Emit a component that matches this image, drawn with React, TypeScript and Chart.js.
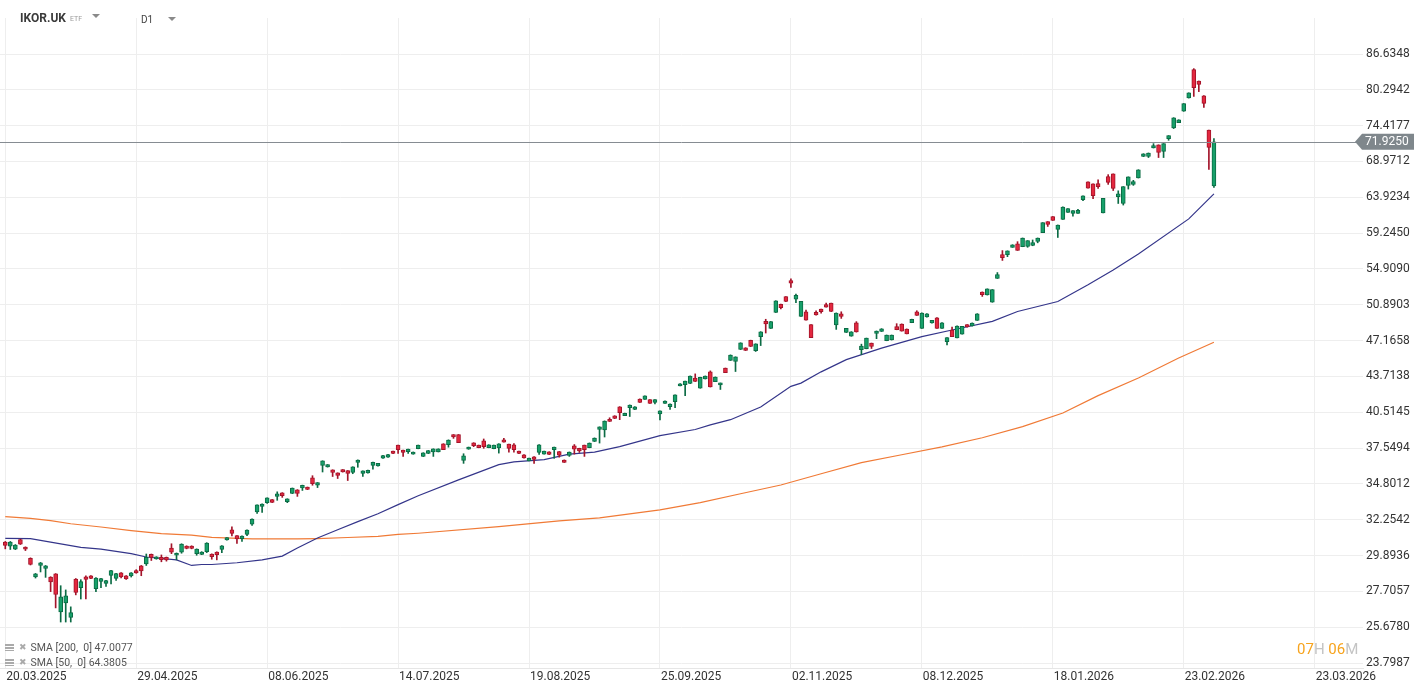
import React, { useEffect, useRef } from 'react';
import { Chart, registerables } from 'chart.js';

Chart.register(...registerables);

const symbol = 'IKOR.UK';
const symbolType = 'ETF';
const interval = 'D1';

const xTickIndex = [0, 26, 52, 78, 104, 130, 156, 182, 208, 234, 260];
const xTickLabels = ['20.03.2025', '29.04.2025', '08.06.2025', '14.07.2025', '19.08.2025', '25.09.2025', '02.11.2025', '08.12.2025', '18.01.2026', '23.02.2026', '23.03.2026'];

const yTicks = [23.7987, 25.678, 27.7057, 29.8936, 32.2542, 34.8012, 37.5494, 40.5145, 43.7138, 47.1658, 50.8903, 54.909, 59.245, 63.9234, 68.9712, 74.4177, 80.2942, 86.6348];

const opens = [
  30.76, 30.50, 30.30, 30.92, 30.43, 29.72, 28.56, 29.27, 29.09, 28.56,
  28.75, 26.52, 27.03, 26.22, 28.44, 27.93, 28.58, 28.63, 27.87, 28.30,
  28.18, 28.66, 28.48, 28.81, 28.63, 28.63, 28.95, 29.25, 29.36, 29.97,
  29.68, 29.78, 29.78, 30.37, 29.91, 30.10, 30.50, 30.50, 30.01, 29.97,
  30.14, 29.99, 30.12, 30.28, 30.90, 31.57, 31.18, 30.98, 31.27, 31.95,
  32.80, 33.18, 33.44, 33.66, 33.89, 34.15, 33.51, 34.10, 34.37, 34.51,
  34.56, 35.25, 34.70, 36.20, 36.07, 35.85, 35.62, 35.87, 35.79, 35.66,
  36.43, 35.59, 35.62, 36.20, 36.15, 36.75, 36.83, 37.30, 37.78, 37.38,
  37.27, 37.07, 37.50, 36.89, 37.12, 37.25, 37.25, 37.89, 37.83, 38.63,
  38.63, 36.58, 37.46, 37.97, 37.78, 38.14, 37.58, 37.50, 37.56, 38.22,
  37.86, 37.81, 37.30, 37.02, 36.54, 36.86, 37.20, 37.07, 37.25, 37.43,
  37.27, 36.61, 36.96, 37.72, 37.53, 37.78, 37.58, 38.08, 39.07, 39.02,
  39.92, 40.21, 40.99, 40.23, 40.92, 40.75, 41.67, 41.64, 41.61, 41.37,
  40.37, 41.28, 40.99, 41.43, 42.84, 42.95, 43.06, 43.56, 42.64, 43.48,
  44.14, 43.24, 42.93, 44.49, 45.23, 45.13, 46.29, 46.45, 47.20, 46.16,
  47.57, 49.14, 48.40, 50.07, 50.95, 51.77, 53.57, 51.51, 49.65, 50.14,
  48.79, 50.07, 50.42, 50.90, 51.06, 48.76, 49.93, 47.99, 47.61, 48.99,
  46.26, 46.36, 46.91, 47.88, 48.09, 47.16, 47.23, 48.58, 48.86, 48.34,
  49.00, 50.14, 48.40, 49.59, 48.96, 49.51, 48.40, 47.06, 48.24, 47.44,
  47.82, 48.79, 48.65, 49.24, 52.29, 51.96, 51.17, 53.82, 56.60, 56.60,
  57.49, 57.90, 57.57, 57.61, 57.73, 58.22, 59.31, 60.70, 61.36, 59.70,
  61.00, 61.92, 61.79, 61.79, 63.61, 66.04, 65.76, 65.80, 61.84, 66.79,
  67.17, 64.01, 63.09, 65.56, 65.70, 66.60, 69.70, 69.70, 70.98, 71.44,
  70.46, 72.39, 74.07, 74.91, 76.72, 78.91, 83.81, 81.81, 79.29, 73.72,
  65.47
];

const highs = [
  30.80, 30.80, 30.60, 30.95, 30.45, 29.75, 28.78, 29.46, 29.27, 28.58,
  28.77, 28.04, 27.79, 26.81, 28.47, 28.40, 28.64, 28.65, 28.52, 28.48,
  28.36, 28.97, 28.79, 28.83, 28.65, 28.83, 29.01, 29.27, 29.99, 29.99,
  29.82, 29.93, 29.80, 30.65, 30.06, 30.65, 30.52, 30.52, 30.32, 30.14,
  30.72, 30.00, 30.13, 30.53, 31.06, 31.77, 31.19, 31.17, 31.57, 32.31,
  33.29, 33.36, 33.79, 33.67, 34.22, 34.16, 33.72, 34.50, 34.38, 34.71,
  34.57, 35.41, 34.90, 36.55, 36.26, 35.86, 35.63, 35.88, 35.80, 36.09,
  36.62, 35.78, 35.83, 36.44, 36.36, 36.97, 37.05, 37.31, 37.79, 37.39,
  37.47, 37.24, 37.79, 37.18, 37.36, 37.49, 37.49, 37.90, 38.21, 38.64,
  38.64, 37.10, 37.63, 37.98, 37.79, 38.28, 37.82, 37.79, 37.90, 38.33,
  37.87, 37.91, 37.31, 37.03, 36.76, 36.87, 37.82, 37.31, 37.26, 37.63,
  37.28, 36.62, 37.24, 37.83, 37.54, 37.79, 37.96, 38.37, 39.28, 39.78,
  40.04, 40.22, 41.00, 40.44, 41.15, 41.00, 41.68, 41.95, 41.62, 41.62,
  40.64, 41.50, 41.24, 42.04, 43.05, 43.29, 43.76, 43.95, 43.64, 43.76,
  44.23, 43.67, 43.11, 44.50, 45.76, 45.57, 46.95, 46.46, 47.21, 46.85,
  48.07, 49.35, 49.12, 51.33, 50.96, 51.78, 53.76, 52.07, 51.27, 50.32,
  48.80, 50.25, 50.43, 51.06, 51.07, 50.02, 50.14, 48.41, 48.07, 49.10,
  46.81, 47.42, 46.92, 48.14, 48.38, 47.73, 47.73, 48.89, 48.87, 48.35,
  49.36, 50.25, 50.02, 49.94, 49.25, 49.52, 49.00, 47.48, 48.55, 48.66,
  48.62, 48.80, 48.97, 49.94, 52.30, 52.64, 52.56, 54.49, 57.09, 57.06,
  57.81, 58.18, 58.64, 58.31, 58.39, 58.64, 60.58, 60.71, 61.37, 60.28,
  62.63, 62.42, 62.15, 62.31, 64.12, 66.05, 65.77, 66.32, 63.80, 67.07,
  67.18, 64.81, 65.39, 66.76, 66.27, 67.78, 70.12, 70.23, 71.63, 71.45,
  71.64, 72.86, 75.69, 75.36, 77.99, 79.79, 83.99, 81.82, 79.30, 73.73,
  72.39
];

const lows = [
  30.32, 30.28, 30.27, 30.60, 30.21, 29.30, 28.50, 28.87, 28.54, 27.69,
  26.75, 25.96, 25.96, 25.96, 27.50, 27.26, 27.26, 28.46, 27.69, 27.93,
  27.99, 28.14, 28.36, 28.50, 28.42, 28.56, 28.79, 28.64, 29.27, 29.58,
  29.66, 29.50, 29.54, 30.01, 29.62, 30.04, 30.32, 30.32, 29.91, 29.95,
  30.08, 29.66, 29.62, 30.08, 30.89, 31.16, 30.67, 30.80, 31.18, 31.86,
  32.68, 32.75, 33.39, 33.45, 33.61, 33.82, 33.44, 34.09, 33.89, 34.32,
  34.38, 34.70, 34.53, 35.69, 36.06, 35.35, 35.20, 35.68, 35.05, 35.56,
  36.05, 35.35, 35.61, 35.90, 36.14, 36.74, 36.82, 37.11, 37.12, 36.89,
  37.12, 37.06, 37.49, 36.88, 37.11, 36.89, 37.24, 37.42, 37.62, 38.33,
  37.98, 36.35, 37.45, 37.66, 37.57, 37.53, 37.57, 37.49, 37.15, 38.02,
  37.23, 37.23, 37.11, 36.76, 36.53, 36.35, 37.04, 37.06, 37.03, 36.74,
  36.83, 36.42, 36.89, 37.07, 37.20, 36.89, 37.57, 38.07, 37.95, 38.44,
  39.73, 39.97, 39.88, 40.22, 40.15, 40.74, 41.36, 41.63, 41.27, 41.23,
  39.85, 41.27, 40.75, 40.92, 42.83, 41.97, 43.05, 43.24, 42.63, 43.47,
  42.74, 43.23, 42.52, 44.06, 45.22, 44.17, 46.28, 46.18, 46.57, 46.09,
  46.67, 47.93, 48.39, 50.06, 50.45, 51.23, 52.81, 51.13, 49.64, 49.25,
  47.46, 49.79, 50.00, 50.62, 50.16, 48.30, 49.44, 47.98, 47.60, 48.02,
  45.79, 46.35, 46.38, 47.36, 48.08, 47.15, 47.22, 48.26, 48.12, 47.84,
  48.99, 49.75, 48.39, 49.58, 48.95, 48.39, 48.39, 46.74, 47.56, 47.43,
  47.81, 48.54, 48.64, 49.23, 51.80, 51.95, 51.16, 53.81, 55.91, 56.36,
  57.48, 57.11, 57.56, 57.49, 57.68, 58.04, 59.30, 60.09, 60.86, 58.70,
  60.99, 61.91, 61.40, 61.78, 63.48, 65.18, 63.74, 65.14, 61.83, 65.70,
  64.85, 63.09, 62.88, 65.05, 65.56, 66.59, 69.69, 69.55, 70.97, 69.55,
  69.55, 72.14, 73.96, 74.90, 76.71, 78.90, 79.18, 79.99, 77.37, 67.81,
  65.28
];

const closes = [
  30.54, 30.76, 30.57, 30.63, 30.30, 29.33, 28.75, 29.44, 29.25, 28.26,
  27.52, 27.39, 27.44, 26.48, 27.65, 28.28, 28.42, 28.48, 28.50, 28.46,
  28.34, 28.95, 28.77, 28.56, 28.44, 28.81, 28.81, 28.93, 29.78, 29.78,
  29.80, 29.64, 29.62, 30.10, 30.04, 30.63, 30.34, 30.34, 30.30, 30.12,
  30.70, 29.82, 29.95, 30.52, 31.05, 31.33, 30.96, 31.16, 31.56, 32.30,
  33.28, 33.35, 33.78, 33.46, 34.08, 33.94, 33.71, 34.49, 34.10, 34.70,
  34.39, 34.82, 34.89, 36.54, 36.25, 35.66, 35.43, 35.69, 35.59, 36.08,
  36.61, 35.77, 35.82, 36.43, 36.35, 36.96, 37.04, 37.12, 37.43, 37.20,
  37.46, 37.23, 37.78, 37.17, 37.35, 37.48, 37.48, 37.43, 38.20, 38.44,
  37.99, 36.94, 37.62, 37.75, 37.58, 37.66, 37.81, 37.78, 37.89, 38.03,
  37.53, 37.43, 37.12, 36.77, 36.75, 36.65, 37.81, 37.30, 37.04, 37.62,
  36.99, 36.43, 37.23, 37.46, 37.33, 37.43, 37.95, 38.36, 39.27, 39.77,
  39.74, 39.98, 40.48, 40.43, 41.14, 40.99, 41.37, 41.94, 41.28, 41.61,
  40.63, 41.49, 41.23, 42.03, 43.04, 43.28, 43.75, 43.25, 43.63, 43.75,
  42.75, 43.66, 43.10, 44.07, 45.75, 45.56, 46.94, 46.19, 46.58, 46.84,
  48.06, 48.86, 49.11, 51.32, 50.59, 51.24, 53.27, 51.91, 51.26, 49.26,
  47.47, 49.80, 50.14, 50.63, 50.17, 50.01, 49.65, 48.40, 48.06, 48.03,
  46.62, 47.41, 46.58, 48.13, 48.37, 47.72, 47.72, 48.27, 48.13, 47.85,
  49.35, 49.76, 50.01, 49.93, 49.24, 48.40, 48.99, 47.47, 47.57, 48.65,
  48.61, 48.55, 48.96, 49.93, 51.99, 52.63, 52.55, 54.27, 56.24, 57.05,
  57.80, 57.12, 58.63, 58.30, 58.06, 58.63, 60.57, 60.35, 60.87, 60.27,
  62.62, 62.41, 62.14, 62.18, 64.11, 65.19, 64.15, 65.38, 63.79, 65.99,
  65.14, 64.39, 65.38, 66.75, 66.09, 67.77, 70.11, 70.22, 71.33, 70.31,
  71.63, 72.85, 75.68, 75.35, 77.98, 79.78, 80.68, 81.21, 78.03, 71.07,
  71.925
];

const sma200Index = [0, 5, 9, 13, 19, 25, 31, 37, 41, 49, 58, 62, 68, 74, 78, 82, 98, 110, 118, 130, 138, 146, 154, 162, 170, 178, 186, 194, 202, 210, 217, 225, 233, 240];
const sma200Values = [32.47, 32.35, 32.19, 31.98, 31.76, 31.52, 31.32, 31.21, 31.07, 30.97, 30.97, 30.99, 31.06, 31.14, 31.26, 31.34, 31.78, 32.17, 32.38, 32.94, 33.44, 34.08, 34.72, 35.56, 36.41, 37.02, 37.64, 38.38, 39.30, 40.45, 41.97, 43.57, 45.46, 47.0077];

const sma50Index = [0, 5, 9, 15, 19, 25, 28, 34, 37, 39, 41, 46, 51, 55, 58, 62, 66, 70, 74, 78, 82, 90, 98, 101, 107, 112, 117, 122, 130, 137, 140, 144, 150, 156, 158, 162, 167, 174, 182, 188, 196, 201, 209, 215, 220, 225, 235, 240];
const sma50Values = [31.00, 30.98, 30.76, 30.41, 30.30, 30.01, 29.80, 29.62, 29.27, 29.33, 29.33, 29.44, 29.62, 29.86, 30.37, 31.03, 31.57, 32.12, 32.66, 33.30, 33.94, 35.10, 36.25, 36.46, 36.64, 37.07, 37.23, 37.67, 38.55, 39.06, 39.44, 39.88, 40.96, 42.80, 43.10, 44.14, 45.30, 46.42, 47.57, 48.24, 49.13, 50.17, 51.24, 53.09, 54.79, 56.69, 61.06, 64.3805];

const lastPrice = 71.925;
const legendRows = ['SMA [200,  0] 47.0077', 'SMA [50,  0] 64.3805'];

const UP_FILL = '#17a06a';
const UP_LINE = '#0b6b44';
const DOWN_FILL = '#e3283f';
const DOWN_LINE = '#a3142a';

const priceTagPlugin = {
  id: 'priceTag',
  afterDatasetsDraw(chart: any) {
    const { ctx, chartArea, scales } = chart;
    const y = Math.round(scales.y.getPixelForValue(lastPrice)) + 0.5;
    ctx.save();
    ctx.strokeStyle = '#868c92';
    ctx.lineWidth = 1;
    ctx.beginPath();
    ctx.moveTo(chartArea.left, y);
    ctx.lineTo(chartArea.right, y);
    ctx.stroke();
    ctx.restore();
  },
  afterDraw(chart: any) {
    const { ctx, scales } = chart;
    const y = scales.y.getPixelForValue(lastPrice);
    ctx.save();
    ctx.fillStyle = '#7f878c';
    ctx.beginPath();
    ctx.moveTo(1355, y);
    ctx.lineTo(1362, y - 8);
    ctx.lineTo(1414, y - 8);
    ctx.lineTo(1414, y + 8);
    ctx.lineTo(1362, y + 8);
    ctx.closePath();
    ctx.fill();
    ctx.fillStyle = '#ffffff';
    ctx.font = '12px Roboto';
    ctx.textAlign = 'left';
    ctx.textBaseline = 'middle';
    ctx.fillText(lastPrice.toFixed(4), 1365, y + 0.5);
    ctx.restore();
  },
};

export default function App() {
  const canvasRef = useRef<HTMLCanvasElement | null>(null);

  useEffect(() => {
    document.body.style.margin = '0';
    const canvas = canvasRef.current;
    if (!canvas) return;
    const up = closes.map((c, i) => c >= opens[i]);
    const wickData = lows.map((l, i) => ({ x: i, y: [l, highs[i]] }));
    const bodyData = opens.map((o, i) => ({ x: i, y: [Math.min(o, closes[i]), Math.max(o, closes[i])] }));
    const sma200Data = sma200Index.map((x, i) => ({ x, y: sma200Values[i] }));
    const sma50Data = sma50Index.map((x, i) => ({ x, y: sma50Values[i] }));

    const chart = new Chart(canvas, {
      type: 'bar',
      data: {
        datasets: [
          {
            type: 'line',
            data: sma200Data,
            borderColor: '#f07a36',
            borderWidth: 1.2,
            pointRadius: 0,
            tension: 0,
            order: 3,
          } as any,
          {
            type: 'line',
            data: sma50Data,
            borderColor: '#34358a',
            borderWidth: 1.2,
            pointRadius: 0,
            tension: 0,
            order: 2,
          } as any,
          {
            data: wickData,
            backgroundColor: up.map((u) => (u ? UP_LINE : DOWN_LINE)),
            barThickness: 1,
            grouped: false,
            order: 1,
          } as any,
          {
            data: bodyData,
            backgroundColor: up.map((u) => (u ? UP_FILL : DOWN_FILL)),
            borderColor: up.map((u) => (u ? UP_LINE : DOWN_LINE)),
            borderWidth: 1,
            borderSkipped: false,
            barThickness: 4,
            minBarLength: 2,
            grouped: false,
            order: 0,
          } as any,
        ],
      },
      options: {
        animation: false,
        responsive: false,
        maintainAspectRatio: false,
        layout: { padding: { top: 18, left: 0, right: 0, bottom: 0 } },
        plugins: { legend: { display: false }, tooltip: { enabled: false } },
        scales: {
          x: {
            type: 'linear',
            min: -1.05,
            max: 269.6,
            offset: false,
            grid: { color: '#eeeeee', drawTicks: false, offset: false },
            border: { display: true, color: '#e6e6e6' },
            ticks: {
              autoSkip: false,
              maxRotation: 0,
              align: 'start',
              padding: 2,
              labelOffset: 1,
              color: '#333333',
              font: { family: 'Roboto', size: 12 },
              callback: (_v: any, idx: number) => xTickLabels[idx],
            },
            afterBuildTicks: (s: any) => {
              s.ticks = xTickIndex.map((v) => ({ value: v }));
            },
            afterFit: (s: any) => {
              s.height = 26;
            },
          },
          y: {
            type: 'logarithmic',
            position: 'right',
            min: 23.5476,
            max: 93.513,
            grid: { color: '#eeeeee', drawTicks: false, offset: false },
            border: { display: false },
            ticks: {
              padding: 3,
              color: '#333333',
              font: { family: 'Roboto', size: 12 },
              callback: (v: any) => Number(v).toFixed(4),
            },
            afterBuildTicks: (s: any) => {
              s.ticks = yTicks.map((v) => ({ value: v }));
            },
            afterFit: (s: any) => {
              s.width = 63;
            },
          },
        },
      } as any,
      plugins: [priceTagPlugin],
    });
    return () => chart.destroy();
  }, []);

  const tri = (left: number, top: number) => (
    <div
      style={{
        position: 'absolute',
        left,
        top,
        width: 0,
        height: 0,
        borderLeft: '4px solid transparent',
        borderRight: '4px solid transparent',
        borderTop: '4px solid #8a8a8a',
      }}
    />
  );

  return (
    <div style={{ position: 'absolute', left: 0, top: 0, width: 1426, height: 694, background: '#fff', fontFamily: 'Roboto, sans-serif' }}>
      <canvas ref={canvasRef} width={1426} height={694} style={{ position: 'absolute', left: 0, top: 0, width: 1426, height: 694 }} />
      <div style={{ position: 'absolute', left: 20, top: 10, height: 16, lineHeight: '16px', fontSize: 12, fontWeight: 700, color: '#3a3a3a' }}>{symbol}</div>
      <div style={{ position: 'absolute', left: 70, top: 14, height: 10, lineHeight: '10px', fontSize: 7, color: '#9a9a9a' }}>{symbolType}</div>
      {tri(92, 14)}
      <div style={{ position: 'absolute', left: 141, top: 13, height: 14, lineHeight: '14px', fontSize: 10, color: '#444' }}>{interval}</div>
      {tri(168, 17)}
      {legendRows.map((t, i) => (
        <div key={t} style={{ position: 'absolute', left: 5, top: 641 + i * 15, height: 13, lineHeight: '13px', fontSize: 10.5, color: '#555', whiteSpace: 'pre', display: 'flex', alignItems: 'center' }}>
          <span style={{ display: 'inline-block', width: 9, height: 7, marginRight: 5, background: 'linear-gradient(#aaa 0 2px, transparent 2px 3px, #aaa 3px 5px, transparent 5px 6px, #aaa 6px 7px)' }} />
          <span style={{ color: '#aaa', fontSize: 9, marginRight: 4, fontFamily: 'DejaVu Sans' }}>✖</span>
          <span>{t}</span>
        </div>
      ))}
      <div style={{ position: 'absolute', left: 1297, top: 640, height: 18, lineHeight: '18px', fontSize: 15, whiteSpace: 'pre' }}>
        <span style={{ color: '#f7a31c' }}>07</span>
        <span style={{ color: '#c4c4c4' }}>H </span>
        <span style={{ color: '#f7a31c' }}>06</span>
        <span style={{ color: '#c4c4c4' }}>M</span>
      </div>
    </div>
  );
}
